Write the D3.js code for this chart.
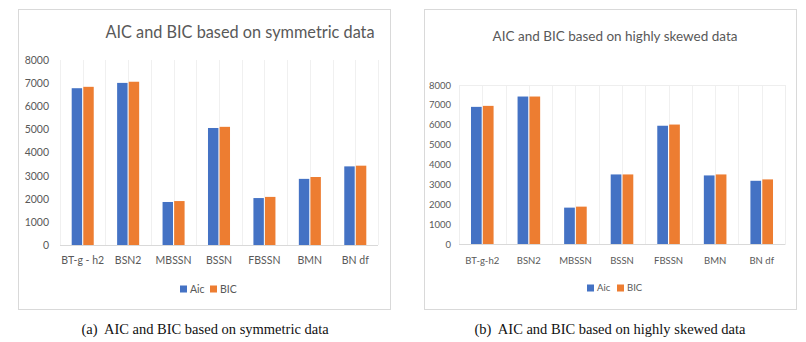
<!DOCTYPE html>
<html><head><meta charset="utf-8">
<script src="https://cdn.jsdelivr.net/npm/d3@7"></script>
<style>body{margin:0;background:#fff}svg{display:block}text{white-space:pre}</style>
</head><body>
<svg id="c" width="806" height="342"></svg>
<script>
const catsA = ["BT-g - h2","BSN2","MBSSN","BSSN","FBSSN","BMN","BN df"];
const aicA = [6780,7010,1860,5060,2030,2860,3400];
const bicA = [6840,7060,1900,5110,2080,2940,3430];
const catsB = ["BT-g-h2","BSN2","MBSSN","BSSN","FBSSN","BMN","BN df"];
const aicB = [6900,7420,1830,3500,5950,3450,3180];
const bicB = [6950,7420,1880,3500,6010,3500,3250];
const yTicks = [0,1000,2000,3000,4000,5000,6000,7000,8000];
const seriesNames = ["Aic","BIC"];
const colors = ["#4472C4","#ED7D31"];
const titles = ["AIC and BIC based on symmetric data","AIC and BIC based on highly skewed data"];
const captions = ["(a)\u00a0 AIC and BIC based on symmetric data","(b)\u00a0 AIC and BIC based on highly skewed data"];

const svg = d3.select("#c");
const font = "Lato, 'Open Sans', sans-serif";

function panel(cfg){
  const g = svg.append("g");
  g.append("rect").attr("x",cfg.frame[0]+0.5).attr("y",cfg.frame[1]+0.5)
    .attr("width",cfg.frame[2]-cfg.frame[0]).attr("height",cfg.frame[3]-cfg.frame[1])
    .attr("fill","#fff").attr("stroke","#d9d9d9");
  const x = d3.scaleBand().domain(cfg.cats).range([cfg.x0,cfg.x1]).paddingInner(0.515).paddingOuter(0.2575);
  const xs = d3.scaleBand().domain(seriesNames).range([0,x.bandwidth()]).paddingInner(0.1);
  const y = d3.scaleLinear().domain([0,8000]).range([cfg.y0,cfg.y1]);
  const step = x.step();
  const gl = [];
  for(let i=0;i<=cfg.cats.length*2;i++) gl.push(cfg.x0 + i*step/2);
  g.selectAll(".vg").data(gl).enter().append("line")
    .attr("x1",d=>Math.round(d)+0.5).attr("x2",d=>Math.round(d)+0.5)
    .attr("y1",cfg.y1).attr("y2",cfg.y0).attr("stroke","#f0f0f0");
  if(cfg.plotBorder){
    g.append("rect").attr("x",cfg.x0+0.5).attr("y",y(8000)+0.5)
      .attr("width",cfg.x1-cfg.x0).attr("height",cfg.y0-y(8000))
      .attr("fill","none").attr("stroke","#eeeeee");
  }
  const data = [];
  cfg.cats.forEach((c,i)=>{ data.push({c,s:"Aic",v:cfg.aic[i]}); data.push({c,s:"BIC",v:cfg.bic[i]}); });
  g.selectAll(".bar").data(data).enter().append("rect")
    .attr("x",d=>x(d.c)+xs(d.s)).attr("width",xs.bandwidth())
    .attr("y",d=>y(d.v)).attr("height",d=>y(0)-y(d.v))
    .attr("fill",d=>colors[seriesNames.indexOf(d.s)]);
  g.append("line").attr("x1",cfg.x0).attr("x2",cfg.x1).attr("y1",Math.round(y(0))+0.5).attr("y2",Math.round(y(0))+0.5)
    .attr("stroke","#d9d9d9");
  const ya = d3.axisLeft(y).tickValues(yTicks).tickSize(0).tickPadding(0).tickFormat(d3.format("d"));
  const ag = g.append("g").attr("transform",`translate(${cfg.ylabX},0)`).call(ya);
  ag.select(".domain").remove();
  ag.selectAll("text").attr("fill","#595959").attr("font-family",font).attr("font-size",cfg.tickFs);
  const xa = d3.axisBottom(x).tickSize(0).tickPadding(0);
  const xg = g.append("g").attr("transform",`translate(0,${cfg.xlabY})`).call(xa);
  xg.select(".domain").remove();
  xg.selectAll("text").attr("fill","#595959").attr("font-family",font).attr("font-size",cfg.tickFs).attr("dy","0.35em");
  g.append("text").attr("x",cfg.titleX).attr("y",cfg.titleY).attr("text-anchor","middle")
    .attr("font-family",font).attr("font-size",cfg.titleFs).attr("fill","#595959").text(cfg.title);
  const lg = g.append("g").attr("transform",`translate(${cfg.legX},${cfg.legY})`);
  const items = [{n:"Aic",dx:0},{n:"BIC",dx:30}];
  items.forEach((it,i)=>{
    lg.append("rect").attr("x",it.dx).attr("y",-3.5).attr("width",7).attr("height",7).attr("fill",colors[i]);
    lg.append("text").attr("x",it.dx+10).attr("y",0).attr("dy","0.35em").attr("font-family",font)
      .attr("font-size",cfg.tickFs).attr("fill","#595959").text(it.n);
  });
  svg.append("text").attr("x",cfg.capX).attr("y",329).attr("dy","0.35em").attr("text-anchor","middle")
    .attr("font-family","'Liberation Serif','Times New Roman',serif").attr("font-size",14.5).attr("fill","#111")
    .text(cfg.caption);
}

panel({frame:[18,9,390,309], cats:catsA, aic:aicA, bic:bicA, x0:60, x1:378, y0:245, y1:60,
  ylabX:49, xlabY:260, tickFs:10.5, titleX:240, titleY:38, titleFs:16.3, title:titles[0],
  legX:180, legY:289, caption:captions[0], capX:205});
panel({frame:[424,9,796,309], cats:catsB, aic:aicB, bic:bicB, x0:459, x1:785, y0:244, y1:85, plotBorder:true,
  ylabX:451, xlabY:261, tickFs:9.5, titleX:615, titleY:41, titleFs:13.5, title:titles[1],
  legX:587, legY:288, caption:captions[1], capX:610});
</script>
</body></html>
